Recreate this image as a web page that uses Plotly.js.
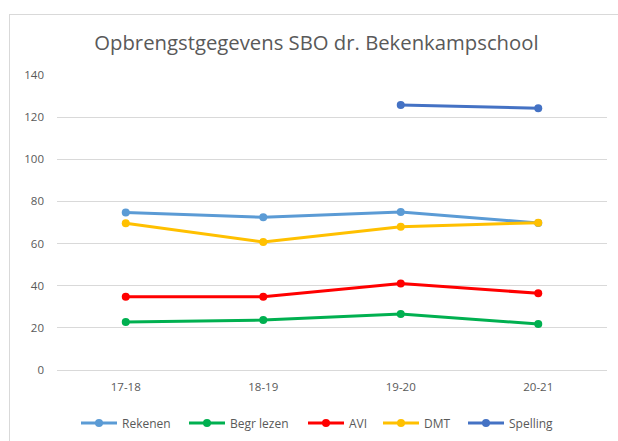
<!DOCTYPE html>
<html>
<head>
<meta charset="utf-8">
<script src="https://cdn.plot.ly/plotly-3.0.1.min.js"></script>
<style>
html,body{margin:0;padding:0;background:#fff;}
#frame{position:absolute;left:9px;top:14px;width:620px;height:440px;border-top:1px solid #d9d9d9;border-left:1px solid #d9d9d9;}
#chart{position:absolute;left:0;top:0;width:618px;height:441px;}
</style>
</head>
<body>
<div id="frame"></div>
<div id="chart"></div>
<script>
var categories = ["17-18", "18-19", "19-20", "20-21"];
var rekenen = [74.8, 72.5, 75.0, 69.8];
var begrLezen = [22.8, 23.7, 26.6, 21.8];
var avi = [34.8, 34.8, 41.1, 36.4];
var dmt = [69.6, 60.7, 68.0, 69.9];
var spelling = [null, null, 125.8, 124.2];
var seriesNames = ["Rekenen", "Begr lezen", "AVI", "DMT", "Spelling"];
var seriesColors = ["#5B9BD5", "#00B050", "#FF0000", "#FFC000", "#4472C4"];
var seriesValues = [rekenen, begrLezen, avi, dmt, spelling];
var yTicks = [0, 20, 40, 60, 80, 100, 120, 140];

var legendIds = ['legend', 'legend2', 'legend3', 'legend4', 'legend5'];
var legendLeftPx = [76, 184, 303, 378, 463];

var traces = seriesValues.map(function(vals, i){
  return {
    x: categories, y: vals, name: seriesNames[i], type: 'scatter', mode: 'lines+markers',
    line: {color: seriesColors[i], width: 3},
    marker: {color: seriesColors[i], size: 8},
    connectgaps: false,
    legend: legendIds[i]
  };
});

var font = "'Open Sans', 'Noto Sans', sans-serif";
var layout = {
  width: 618, height: 441,
  paper_bgcolor: 'rgba(0,0,0,0)', plot_bgcolor: 'rgba(0,0,0,0)',
  margin: {l: 57, r: 11, t: 75, b: 71, autoexpand: false},
  font: {family: font, color: '#595959', size: 12},
  title: {text: 'Opbrengstgegevens SBO dr. Bekenkampschool', font: {family: font, size: 20.3, color: '#595959'}, x: 0.512, xanchor: 'center', y: 1 - 43/441, yanchor: 'middle'},
  xaxis: {type: 'category', range: [-0.5, 3.5], showgrid: false, showline: true, linecolor: '#d9d9d9', linewidth: 1, ticks: '', ticklabelstandoff: 6, tickfont: {size: 11.5, color: '#595959'}, zeroline: false, fixedrange: true},
  yaxis: {range: [0, 140], tickvals: yTicks, ticktext: yTicks.map(String), showgrid: true, gridcolor: '#d9d9d9', gridwidth: 1, zeroline: false, showline: false, ticks: '', ticklabelstandoff: 12, tickfont: {size: 11.5, color: '#595959'}, fixedrange: true},
  showlegend: true
};
legendIds.forEach(function(id, i){
  layout[id] = {orientation: 'h', xref: 'container', yref: 'container', x: legendLeftPx[i] / 618, xanchor: 'left', y: 1 - 423/441, yanchor: 'middle', font: {size: 12, color: '#595959'}, itemwidth: 36, bgcolor: 'rgba(0,0,0,0)', borderwidth: 0};
});
Plotly.newPlot('chart', traces, layout, {displayModeBar: false, staticPlot: true});
</script>
</body>
</html>
